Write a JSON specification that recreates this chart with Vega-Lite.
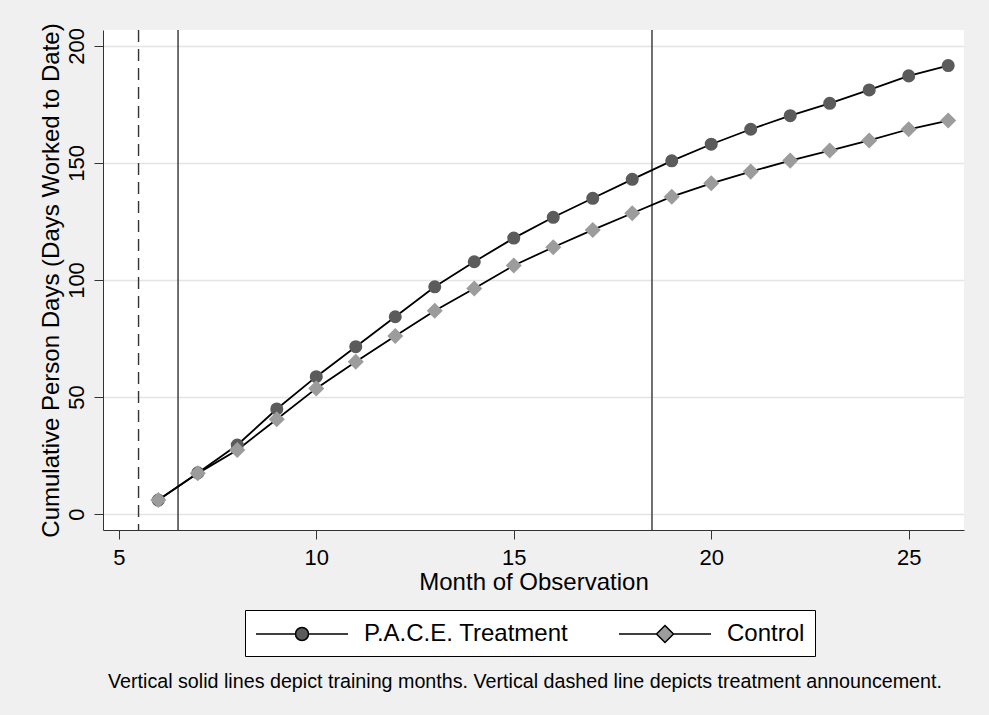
{
  "$schema": "https://vega.github.io/schema/vega-lite/v6.json",
  "width": 861,
  "height": 500,
  "autosize": {"type": "none"},
  "padding": {"left": 103, "top": 30, "right": 25, "bottom": 185},
  "background": "#f0f0f0",
  "config": {
    "view": {"fill": "white", "stroke": null},
    "font": "Liberation Sans"
  },
  "title": {
    "text": "Vertical solid lines depict training months. Vertical dashed line depicts treatment announcement.",
    "orient": "bottom",
    "anchor": "start",
    "frame": "group",
    "dx": 5,
    "offset": 15,
    "fontSize": 19.7,
    "fontWeight": "normal",
    "font": "Liberation Sans",
    "color": "black"
  },
  "data": {
    "values": [
      {"month": 6, "series": "P.A.C.E. Treatment", "days": 6.0},
      {"month": 7, "series": "P.A.C.E. Treatment", "days": 17.6},
      {"month": 8, "series": "P.A.C.E. Treatment", "days": 29.5},
      {"month": 9, "series": "P.A.C.E. Treatment", "days": 44.9},
      {"month": 10, "series": "P.A.C.E. Treatment", "days": 58.7},
      {"month": 11, "series": "P.A.C.E. Treatment", "days": 71.5},
      {"month": 12, "series": "P.A.C.E. Treatment", "days": 84.3},
      {"month": 13, "series": "P.A.C.E. Treatment", "days": 97.1},
      {"month": 14, "series": "P.A.C.E. Treatment", "days": 107.8},
      {"month": 15, "series": "P.A.C.E. Treatment", "days": 117.9},
      {"month": 16, "series": "P.A.C.E. Treatment", "days": 126.8},
      {"month": 17, "series": "P.A.C.E. Treatment", "days": 134.9},
      {"month": 18, "series": "P.A.C.E. Treatment", "days": 143.0},
      {"month": 19, "series": "P.A.C.E. Treatment", "days": 150.9},
      {"month": 20, "series": "P.A.C.E. Treatment", "days": 158.0},
      {"month": 21, "series": "P.A.C.E. Treatment", "days": 164.4},
      {"month": 22, "series": "P.A.C.E. Treatment", "days": 170.2},
      {"month": 23, "series": "P.A.C.E. Treatment", "days": 175.5},
      {"month": 24, "series": "P.A.C.E. Treatment", "days": 181.2},
      {"month": 25, "series": "P.A.C.E. Treatment", "days": 187.2},
      {"month": 26, "series": "P.A.C.E. Treatment", "days": 191.6},
      {"month": 6, "series": "Control", "days": 6.0},
      {"month": 7, "series": "Control", "days": 17.4},
      {"month": 8, "series": "Control", "days": 27.4},
      {"month": 9, "series": "Control", "days": 40.5},
      {"month": 10, "series": "Control", "days": 53.7},
      {"month": 11, "series": "Control", "days": 65.1},
      {"month": 12, "series": "Control", "days": 76.1},
      {"month": 13, "series": "Control", "days": 86.9},
      {"month": 14, "series": "Control", "days": 96.4},
      {"month": 15, "series": "Control", "days": 106.2},
      {"month": 16, "series": "Control", "days": 114.0},
      {"month": 17, "series": "Control", "days": 121.4},
      {"month": 18, "series": "Control", "days": 128.5},
      {"month": 19, "series": "Control", "days": 135.6},
      {"month": 20, "series": "Control", "days": 141.3},
      {"month": 21, "series": "Control", "days": 146.3},
      {"month": 22, "series": "Control", "days": 151.0},
      {"month": 23, "series": "Control", "days": 155.3},
      {"month": 24, "series": "Control", "days": 159.6},
      {"month": 25, "series": "Control", "days": 164.4},
      {"month": 26, "series": "Control", "days": 168.1}
    ]
  },
  "encoding": {
    "x": {
      "field": "month",
      "type": "quantitative",
      "scale": {"domain": [4.6, 26.4], "nice": false, "zero": false},
      "axis": {
        "values": [5, 10, 15, 20, 25],
        "title": "Month of Observation",
        "grid": false,
        "tickSize": 9,
        "labelPadding": 8,
        "labelFontSize": 22,
        "labelFont": "Liberation Sans",
        "labelColor": "black",
        "titleFontSize": 24,
        "titleFont": "Liberation Sans",
        "titleFontWeight": "normal",
        "titleColor": "black",
        "titlePadding": 2,
        "domainColor": "#333333",
        "tickColor": "#333333"
      }
    }
  },
  "layer": [
    {
      "data": {
        "values": [
          {"month": 5.5, "kind": "announcement"},
          {"month": 6.5, "kind": "training"},
          {"month": 18.5, "kind": "training"}
        ]
      },
      "mark": {"type": "rule", "color": "#333333", "strokeWidth": 1.4},
      "encoding": {
        "x": {"field": "month", "type": "quantitative"},
        "strokeDash": {
          "field": "kind",
          "type": "nominal",
          "scale": {"domain": ["announcement", "training"], "range": [[12, 7], [1, 0]]},
          "legend": null
        }
      }
    },
    {
      "mark": {"type": "line", "color": "black", "strokeWidth": 1.8},
      "encoding": {
        "y": {
          "field": "days",
          "type": "quantitative",
          "scale": {"domain": [-6.8, 206.8], "nice": false, "zero": false},
          "axis": {
            "values": [0, 50, 100, 150, 200],
            "title": "Cumulative Person Days (Days Worked to Date)",
            "grid": true,
            "gridColor": "#e4e4e4",
            "gridWidth": 1.5,
            "tickSize": 9,
            "labelAngle": -90,
            "labelAlign": "center",
            "labelBaseline": "alphabetic",
            "labelPadding": 11,
            "labelFontSize": 22,
            "labelFont": "Liberation Sans",
            "labelColor": "black",
            "titleFontSize": 24,
            "titleFont": "Liberation Sans",
            "titleFontWeight": "normal",
            "titleColor": "black",
            "titlePadding": 2,
            "domainColor": "#333333",
            "tickColor": "#333333"
          }
        },
        "detail": {"field": "series", "type": "nominal"}
      }
    },
    {
      "transform": [{"filter": "datum.series === 'P.A.C.E. Treatment'"}],
      "mark": {"type": "point", "shape": "circle", "filled": true, "size": 170, "opacity": 1, "strokeWidth": 0},
      "encoding": {
        "y": {"field": "days", "type": "quantitative"},
        "color": {
          "field": "series",
          "type": "nominal",
          "scale": {"domain": ["P.A.C.E. Treatment", "Control"], "range": ["#5b5b5b", "#9c9c9c"]},
          "legend": {
            "orient": "none",
            "legendX": 142,
            "legendY": 580,
            "direction": "horizontal",
            "title": null,
            "fillColor": "white",
            "strokeColor": "black",
            "padding": 10,
            "labelFontSize": 24,
            "labelFont": "Liberation Sans",
            "labelColor": "black",
            "labelLimit": 400,
            "labelOffset": 48,
            "columnPadding": 46,
            "symbolSize": 676,
            "symbolOffset": 33,
            "symbolStrokeColor": "black",
            "symbolStrokeWidth": 1.5,
            "symbolType": {"expr": "datum.value === 'Control' ? 'M-3.54,0L-0.654,0M0.654,0L3.54,0M0,-0.654L0.654,0L0,0.654L-0.654,0Z' : 'M-3.54,0L-0.5,0M0.5,0L3.54,0M0.5,0A0.5,0.5,0,1,1,-0.5,0A0.5,0.5,0,1,1,0.5,0Z'"}
          }
        }
      }
    },
    {
      "transform": [{"filter": "datum.series === 'Control'"}],
      "mark": {"type": "point", "shape": "M0,-1.23L1.23,0L0,1.23L-1.23,0Z", "filled": true, "size": 170, "opacity": 1, "strokeWidth": 0},
      "encoding": {
        "y": {"field": "days", "type": "quantitative"},
        "color": {"field": "series", "type": "nominal"}
      }
    }
  ]
}
